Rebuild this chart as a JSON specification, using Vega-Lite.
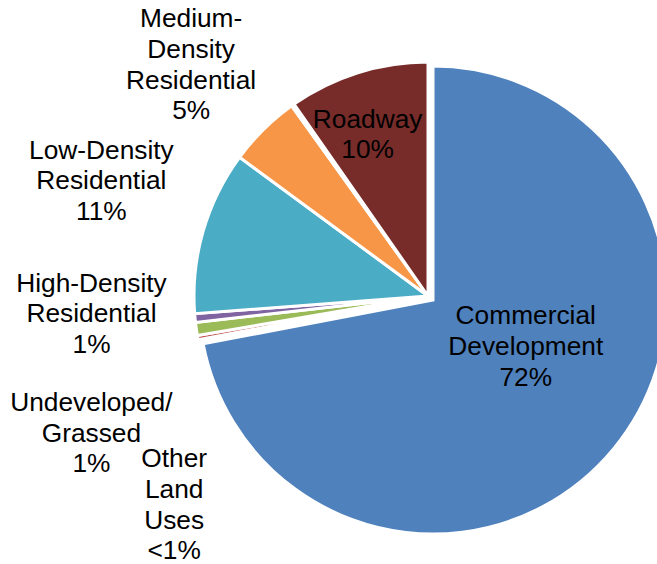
{
  "$schema": "https://vega.github.io/schema/vega-lite/v6.json",
  "width": 458,
  "height": 536,
  "autosize": "none",
  "padding": {"left": 199, "top": 28, "right": 0, "bottom": 0},
  "background": "white",
  "config": {"view": {"stroke": null}, "text": {"font": "Liberation Sans", "fontSize": 26.3, "lineHeight": 30.7, "lineBreak": "\n", "color": "black"}},
  "data": {"values": [
    {"idx": 0, "cat": "Commercial Development", "value": 72.0, "label": "Commercial\nDevelopment\n72%"},
    {"idx": 1, "cat": "Other Land Uses", "value": 0.3, "label": "Other\nLand\nUses\n<1%"},
    {"idx": 2, "cat": "Undeveloped/Grassed", "value": 0.9, "label": "Undeveloped/\nGrassed\n1%"},
    {"idx": 3, "cat": "High-Density Residential", "value": 0.6, "label": "High-Density\nResidential\n1%"},
    {"idx": 4, "cat": "Low-Density Residential", "value": 11.3, "label": "Low-Density\nResidential\n11%"},
    {"idx": 5, "cat": "Medium-Density Residential", "value": 5.0, "label": "Medium-\nDensity\nResidential\n5%"},
    {"idx": 6, "cat": "Unlabeled", "value": 0.2, "label": ""},
    {"idx": 7, "cat": "Roadway", "value": 9.7, "label": "Roadway\n10%"}
  ]},
  "encoding": {
    "theta": {"field": "value", "type": "quantitative", "stack": true},
    "order": {"field": "idx", "type": "quantitative", "sort": "ascending"}
  },
  "layer": [
    {
      "mark": {"type": "arc", "radius": 234, "stroke": "white", "strokeWidth": 3},
      "encoding": {
        "color": {"field": "cat", "type": "nominal", "legend": null,
          "scale": {"domain": ["Commercial Development", "Other Land Uses", "Undeveloped/Grassed", "High-Density Residential", "Low-Density Residential", "Medium-Density Residential", "Unlabeled", "Roadway"],
                    "range": ["#4F81BD", "#C0504D", "#9BBB59", "#8064A2", "#4BACC6", "#F79646", "#2C4D75", "#772C2A"]}},
        "opacity": {"condition": {"test": "datum.cat === 'Commercial Development'", "value": 0}, "value": 1}
      }
    },
    {
      "mark": {"type": "arc", "radius": 234, "stroke": "white", "strokeWidth": 3, "x": {"expr": "width/2 + 5"}, "y": {"expr": "height/2 + 4"}},
      "encoding": {
        "color": {"field": "cat", "type": "nominal", "legend": null},
        "opacity": {"condition": {"test": "datum.cat === 'Commercial Development'", "value": 1}, "value": 0}
      }
    },
    {
      "mark": {"type": "text", "radius": 110, "dx": 13, "dy": -50},
      "encoding": {"text": {"condition": {"test": "datum.cat === 'Commercial Development'", "field": "label"}, "value": ""}}
    },
    {
      "mark": {"type": "text", "radius": 168, "dx": -10, "dy": -16},
      "encoding": {"text": {"condition": {"test": "datum.cat === 'Roadway'", "field": "label"}, "value": ""}}
    },
    {
      "mark": {"type": "text", "radius": 330, "dx": -5, "dy": -42},
      "encoding": {"text": {"condition": {"test": "datum.cat === 'Medium-Density Residential'", "field": "label"}, "value": ""}}
    },
    {
      "mark": {"type": "text", "radius": 345, "dx": 5, "dy": -50},
      "encoding": {"text": {"condition": {"test": "datum.cat === 'Low-Density Residential'", "field": "label"}, "value": ""}}
    },
    {
      "mark": {"type": "text", "radius": 338, "dx": 0, "dy": -44},
      "encoding": {"text": {"condition": {"test": "datum.cat === 'High-Density Residential'", "field": "label"}, "value": ""}}
    },
    {
      "mark": {"type": "text", "radius": 340, "dx": 0, "dy": 59},
      "encoding": {"text": {"condition": {"test": "datum.cat === 'Undeveloped/Grassed'", "field": "label"}, "value": ""}}
    },
    {
      "mark": {"type": "text", "radius": 260, "dx": 2, "dy": 117},
      "encoding": {"text": {"condition": {"test": "datum.cat === 'Other Land Uses'", "field": "label"}, "value": ""}}
    }
  ]
}
